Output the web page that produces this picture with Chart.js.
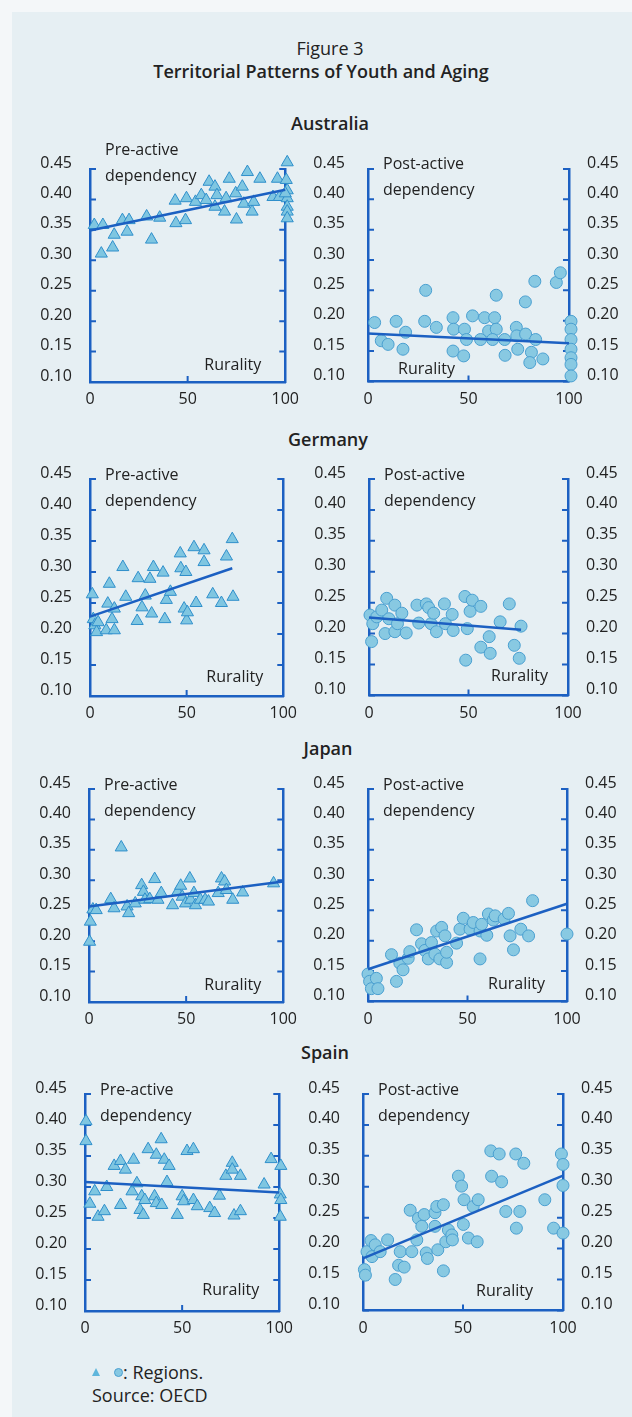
<!DOCTYPE html>
<html>
<head>
<meta charset="utf-8">
<script src="https://cdn.jsdelivr.net/npm/chart.js@4.4.1/dist/chart.umd.min.js"></script>
<style>
  body { margin: 0; width: 632px; height: 1417px; background: #f4f7f9; font-family: "Open Sans", sans-serif; color: #222; overflow: hidden; }
  #page { position: absolute; left: 12px; top: 12px; width: 620px; height: 1405px; background: #e6eff3; }
  .head { position: absolute; white-space: nowrap; transform: translateX(-50%); font-size: 18px; line-height: 18px; }
  .bold { font-weight: 600; }
  canvas { position: absolute; }
  .note { position: absolute; font-size: 18px; line-height: 18px; white-space: nowrap; }
  .tri { position: absolute; width: 0; height: 0; border-left: 4px solid transparent; border-right: 4px solid transparent; border-bottom: 8px solid #5fb6dc; }
  .dot { position: absolute; width: 7px; height: 7px; border-radius: 50%; background: #86c8e2; border: 1px solid #4a9fd0; }
</style>
</head>
<body>
<div id="page"></div>
<div class="head" style="left:330px; top:39px;">Figure 3</div>
<div class="head bold" style="left:321px; top:62px;">Territorial Patterns of Youth and Aging</div>
<div id="heads"></div>
<div class="tri" style="left:92px; top:1368px;"></div>
<div class="dot" style="left:114px; top:1368px;"></div>
<div class="note" style="left:123px; top:1363px;">: Regions.</div>
<div class="note" style="left:92px; top:1386px;">Source: OECD</div>

<script>
// tick labels
const yTicks = [0.10, 0.15, 0.20, 0.25, 0.30, 0.35, 0.40, 0.45];
const xTicks = [0, 50, 100];
const xMidTick = [50];
const countries = ["Australia", "Germany", "Japan", "Spain"];

// [rurality, dependency ratio]
const auPre = [[2.2,0.358],[6.6,0.358],[5.8,0.311],[11.6,0.321],[12.4,0.342],[16.6,0.366],[19,0.347],[20,0.366],[29,0.372],[31.5,0.334],[35.7,0.370],[43.6,0.398],[44,0.361],[48.9,0.366],[49.4,0.402],[54,0.396],[57,0.407],[59.5,0.399],[61,0.429],[64,0.421],[65,0.407],[64,0.388],[68.9,0.380],[69.7,0.402],[71.3,0.434],[74.6,0.410],[75,0.367],[78,0.421],[78.8,0.393],[80.6,0.445],[83,0.380],[83.8,0.396],[87,0.434],[93.7,0.404],[96,0.434],[97,0.404],[101,0.461],[100.5,0.432],[101,0.415],[101,0.402],[101,0.388],[101,0.380],[101,0.369],[100,0.410]];
const auPost = [[3.3,0.197],[6.6,0.167],[10,0.161],[14,0.199],[17.4,0.153],[18.7,0.181],[28.7,0.250],[28.2,0.199],[34,0.189],[42.3,0.205],[42.6,0.186],[42.3,0.150],[47.6,0.142],[48,0.186],[49,0.169],[52,0.208],[56,0.169],[58,0.205],[60,0.183],[63,0.205],[63.8,0.242],[63.8,0.186],[62,0.169],[68,0.169],[68.2,0.143],[73.8,0.189],[74,0.175],[74.5,0.153],[78.4,0.178],[78.3,0.231],[81.3,0.148],[80.5,0.131],[83,0.265],[83.4,0.169],[87,0.137],[93.7,0.263],[95.7,0.279],[101,0.199],[101,0.186],[101,0.169],[101,0.153],[101,0.139],[101,0.128],[101,0.109]];
const dePre = [[1.2,0.264],[1.7,0.224],[2.5,0.214],[4.2,0.219],[3.4,0.203],[8.4,0.206],[9.2,0.249],[10,0.281],[11.4,0.224],[12.6,0.241],[12.6,0.206],[17,0.308],[18.5,0.260],[24.4,0.221],[24.9,0.290],[26.9,0.243],[28.6,0.262],[31,0.289],[31.9,0.233],[32.8,0.308],[37.8,0.299],[38.7,0.224],[39.5,0.255],[41.6,0.268],[46.7,0.330],[47,0.306],[48.7,0.241],[49.6,0.300],[50,0.222],[50.4,0.235],[53.8,0.340],[54.9,0.250],[59,0.335],[59,0.316],[63.5,0.264],[68,0.250],[70.6,0.325],[73.6,0.353],[74,0.260]];
const dePost = [[0.5,0.230],[1.3,0.187],[1.9,0.216],[3.9,0.227],[6.4,0.238],[8.1,0.200],[8.9,0.257],[10,0.224],[13,0.246],[13,0.203],[14.3,0.216],[16.5,0.233],[18.7,0.201],[24.1,0.246],[25,0.217],[28.8,0.248],[30,0.242],[31.2,0.216],[32.5,0.233],[33.9,0.203],[37.9,0.248],[38.4,0.216],[41.8,0.231],[42.3,0.205],[48.2,0.260],[48.6,0.157],[49.4,0.208],[50.8,0.236],[51.9,0.254],[56.2,0.244],[56.2,0.178],[60.4,0.195],[60.9,0.168],[65.9,0.219],[70.5,0.248],[73,0.181],[75.5,0.160],[76.4,0.212]];
const jpPre = [[0.3,0.199],[0.7,0.232],[2,0.252],[3.7,0.251],[11.2,0.269],[12.9,0.254],[16.6,0.354],[19.6,0.257],[20.4,0.246],[23.8,0.262],[27.1,0.292],[28,0.281],[28.8,0.268],[31.3,0.269],[33.8,0.302],[35.5,0.268],[37.2,0.279],[43,0.259],[45.6,0.281],[47.2,0.291],[48,0.273],[49.7,0.262],[51.9,0.303],[52.3,0.268],[54,0.279],[54.8,0.259],[57.3,0.268],[59.8,0.268],[61.5,0.265],[66.5,0.279],[68.2,0.303],[69.8,0.298],[70.7,0.284],[74,0.268],[79.1,0.280],[95,0.295]];
const jpPost = [[0,0.145],[0.8,0.133],[1.7,0.121],[4.2,0.138],[5,0.121],[11.8,0.177],[14.3,0.133],[16,0.163],[17.6,0.152],[20.2,0.171],[21,0.182],[24.4,0.218],[26.9,0.195],[28.6,0.184],[30.3,0.170],[31.9,0.197],[33.6,0.178],[34.5,0.216],[36.1,0.170],[37,0.222],[38.7,0.208],[39.5,0.164],[39.5,0.181],[44.5,0.196],[46.2,0.219],[47.9,0.237],[51.3,0.219],[52.9,0.230],[56.3,0.170],[56.3,0.216],[57.1,0.227],[59.7,0.209],[60.5,0.244],[63,0.234],[63.9,0.241],[68.4,0.236],[70.6,0.245],[71.4,0.208],[73.1,0.185],[76.8,0.219],[80.7,0.208],[82.7,0.266],[100,0.211]];
const esPre = [[0.5,0.406],[0.5,0.374],[2.5,0.273],[5,0.293],[6.7,0.252],[10,0.261],[11.2,0.300],[15,0.334],[18.3,0.342],[18.3,0.271],[20.8,0.328],[24.2,0.293],[25,0.344],[26.7,0.306],[28.3,0.263],[29.2,0.285],[30,0.255],[30.8,0.279],[32.5,0.361],[35.8,0.285],[36.7,0.352],[36.7,0.274],[39.2,0.377],[39.5,0.271],[40.8,0.344],[42.2,0.308],[43.3,0.334],[47.5,0.255],[50,0.285],[50.8,0.277],[52.5,0.358],[55.8,0.361],[55.8,0.279],[57.8,0.269],[64.2,0.266],[66.7,0.258],[69.2,0.286],[72.5,0.318],[75.8,0.339],[75.8,0.328],[80,0.318],[76.7,0.254],[80,0.261],[92.2,0.304],[95.8,0.345],[100.8,0.334],[100.5,0.288],[100.8,0.279],[100.5,0.252]];
const esPost = [[0.7,0.166],[1.2,0.157],[2,0.195],[4,0.213],[4.5,0.187],[6.1,0.206],[8.6,0.195],[12.3,0.214],[16.1,0.150],[17.8,0.173],[18.6,0.195],[20.6,0.170],[24.4,0.195],[23.6,0.262],[26.9,0.214],[27.7,0.249],[29.4,0.236],[30.6,0.255],[31.6,0.193],[32.2,0.184],[36,0.258],[36,0.236],[36.9,0.268],[37.4,0.198],[40.2,0.271],[40.2,0.164],[41.4,0.211],[42.7,0.230],[44.4,0.222],[44.7,0.214],[47.7,0.317],[49.3,0.301],[50.2,0.239],[50.5,0.279],[52.7,0.217],[55.1,0.268],[57.1,0.211],[57.6,0.279],[63.9,0.358],[64.3,0.317],[68.1,0.353],[69.3,0.308],[71.4,0.260],[76.4,0.353],[76.7,0.233],[78.4,0.260],[80.4,0.338],[90.9,0.279],[95.3,0.233],[99.2,0.353],[100,0.336],[100,0.302],[100,0.225]];

// fitted lines, end points
const auPreFit = [[0, 0.349], [100, 0.416]];
const auPostFit = [[0, 0.179], [100, 0.163]];
const dePreFit = [[0, 0.228], [73.6, 0.306]];
const dePostFit = [[0, 0.226], [76.4, 0.206]];
const jpPreFit = [[0, 0.257], [100, 0.298]];
const jpPostFit = [[0, 0.153], [100, 0.261]];
const esPreFit = [[0, 0.308], [100, 0.291]];
const esPostFit = [[0, 0.184], [100, 0.318]];

const blue = "#1c60c2";
const triFill = "#7fc6e1";
const triLine = "#2f8fcb";
const dotFill = "#88c9e2";
const dotLine = "#4a9fd0";

// layout of each row (plot area edges in page pixels)
const rows = [
  { top: 169, bottom: 382, l1: 90, r1: 291, l2: 368, r2: 569, head: 330, headY: 114 },
  { top: 479, bottom: 696, l1: 90, r1: 289, l2: 369, r2: 568, head: 328, headY: 430 },
  { top: 789, bottom: 1002, l1: 89, r1: 289, l2: 368, r2: 567, head: 328, headY: 739 },
  { top: 1094, bottom: 1311, l1: 85, r1: 285, l2: 363, r2: 563, head: 325, headY: 1043 },
];
const preData = [auPre, dePre, jpPre, esPre];
const postData = [auPost, dePost, jpPost, esPost];
const preFits = [auPreFit, dePreFit, jpPreFit, esPreFit];
const postFits = [auPostFit, dePostFit, jpPostFit, esPostFit];
// label offsets: [title dy from top, rurality right inset, rurality dy from bottom]
const preText = [[-19, 24, 17], [-4, 20, 19], [-4, 22, 17], [-4, 20, 21]];
const postText = [[-5, 114, 12], [-4, 20, 19], [-4, 22, 17], [-4, 30, 19]];

const padTop = 34, leftW = 58, bottomH = 32;
const tickFont = { family: "'Open Sans', sans-serif", size: 16 };

const inTicks = {
  id: "inTicks",
  beforeDatasetsDraw(chart) {
    const { ctx, chartArea: a, scales } = chart;
    ctx.save();
    ctx.strokeStyle = blue;
    ctx.lineWidth = 2;
    ctx.beginPath();
    yTicks.forEach((v) => {
      const py = scales.y.getPixelForValue(v);
      ctx.moveTo(a.left, py);
      ctx.lineTo(a.left + 6, py);
      ctx.moveTo(a.right, py);
      ctx.lineTo(a.right - 6, py);
    });
    xMidTick.forEach((v) => {
      const px = scales.x.getPixelForValue(v);
      ctx.moveTo(px, a.bottom);
      ctx.lineTo(px, a.bottom - 6);
    });
    ctx.stroke();
    ctx.restore();
  },
};

const panelText = {
  id: "panelText",
  afterDatasetsDraw(chart, args, opts) {
    const { ctx, chartArea: a } = chart;
    ctx.save();
    ctx.font = "16px 'Open Sans', sans-serif";
    ctx.fillStyle = "#222";
    ctx.textBaseline = "middle";
    ctx.textAlign = "left";
    ctx.fillText(opts.title, a.left + 15, a.top + opts.pos[0]);
    ctx.fillText("dependency", a.left + 15, a.top + opts.pos[0] + 26);
    ctx.textAlign = "right";
    ctx.fillText("Rurality", a.right - opts.pos[1], a.bottom - opts.pos[2]);
    ctx.restore();
  },
};

const makePanel = (row, left, right, points, fit, isPost, pos) => {
  const rightW = isPost ? 62 : 16;
  const canvas = document.createElement("canvas");
  canvas.width = leftW + (right - left) + rightW;
  canvas.height = padTop + (row.bottom - row.top) + bottomH;
  canvas.style.left = left - leftW + "px";
  canvas.style.top = row.top - padTop + "px";
  document.body.appendChild(canvas);

  const yScale = (position, show, pad) => ({
    type: "linear",
    position: position,
    min: 0.1,
    max: 0.45,
    afterBuildTicks: (s) => { s.ticks = yTicks.map((v) => ({ value: v })); },
    afterFit: (s) => { s.width = position === "left" ? leftW : rightW; },
    grid: { display: false, drawTicks: false },
    border: { display: true, color: blue, width: 2.5 },
    ticks: {
      display: show,
      padding: pad,
      labelOffset: -6,
      font: tickFont,
      color: "#222",
      callback: (v) => v.toFixed(2),
    },
  });

  new Chart(canvas, {
    type: "scatter",
    data: {
      datasets: [
        {
          data: fit.map((p) => ({ x: p[0], y: p[1] })),
          showLine: true,
          pointRadius: 0,
          borderColor: blue,
          borderWidth: 2.5,
          clip: false,
        },
        {
          data: points.map((p) => ({ x: p[0], y: p[1] })),
          pointStyle: isPost ? "circle" : "triangle",
          pointRadius: isPost ? 6 : 7,
          backgroundColor: isPost ? dotFill : triFill,
          borderColor: isPost ? dotLine : triLine,
          borderWidth: 1,
          clip: false,
        },
      ],
    },
    options: {
      responsive: false,
      animation: false,
      events: [],
      layout: { padding: { top: padTop, left: 0, right: 0, bottom: 0 } },
      plugins: {
        legend: { display: false },
        tooltip: { enabled: false },
        panelText: { title: isPost ? "Post-active" : "Pre-active", pos: pos },
      },
      scales: {
        x: {
          type: "linear",
          min: 0,
          max: 100,
          afterBuildTicks: (s) => { s.ticks = xTicks.map((v) => ({ value: v })); },
          afterFit: (s) => { s.height = bottomH; },
          grid: { display: false, drawTicks: false },
          border: { display: true, color: blue, width: 2.5 },
          ticks: { padding: 8, font: tickFont, color: "#222", maxRotation: 0 },
        },
        y: yScale("left", true, isPost ? 23 : 18),
        y2: yScale("right", isPost, 18),
      },
    },
    plugins: [inTicks, panelText],
  });
};

rows.forEach((row, i) => {
  const h = document.createElement("div");
  h.className = "head bold";
  h.style.left = row.head + "px";
  h.style.top = row.headY + "px";
  h.textContent = countries[i];
  document.getElementById("heads").appendChild(h);
  makePanel(row, row.l1, row.r1, preData[i], preFits[i], false, preText[i]);
  makePanel(row, row.l2, row.r2, postData[i], postFits[i], true, postText[i]);
});
</script>
</body>
</html>
